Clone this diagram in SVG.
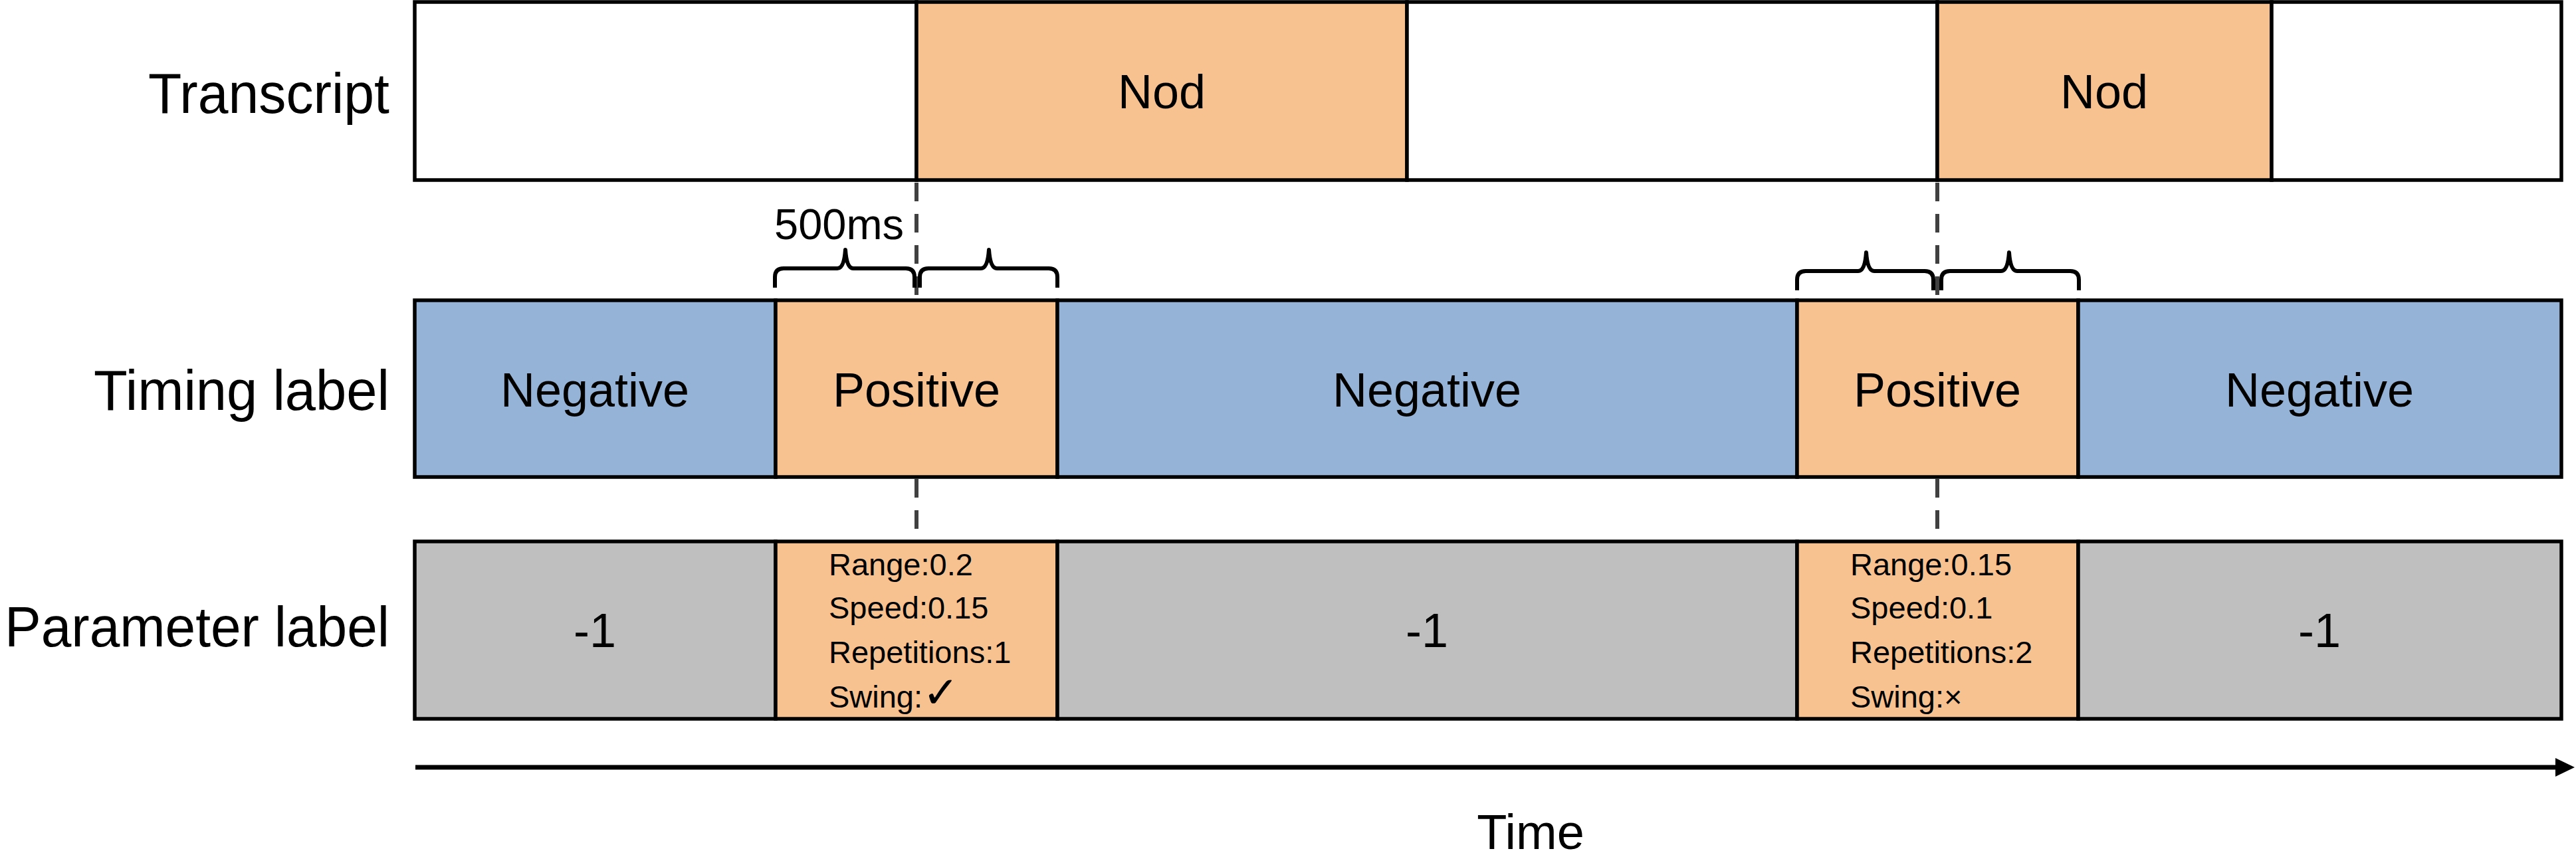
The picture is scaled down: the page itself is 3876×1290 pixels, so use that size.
<svg xmlns="http://www.w3.org/2000/svg" width="3876" height="1290" viewBox="0 0 3876 1290">
<style>
text{font-family:"Liberation Sans","DejaVu Sans",sans-serif;fill:#000}
.cell{stroke:#000;stroke-width:5.5}
.w{fill:#fff}.o{fill:#F8C190}.b{fill:#95B3D7}.g{fill:#BFBFBF}
.lbl{font-size:86px;text-anchor:end}
.c{font-size:72px;text-anchor:middle}
.p{font-size:47px}
.dash{stroke:#404040;stroke-width:6;stroke-dasharray:28 19;fill:none}
.brace{stroke:#000;stroke-width:6;fill:none;stroke-linejoin:round}
</style>
<rect width="3876" height="1290" fill="#fff"/>

<g id="row-labels">
<text class="lbl" x="586" y="170" textLength="363" lengthAdjust="spacingAndGlyphs">Transcript</text>
<text class="lbl" x="586" y="617" textLength="445" lengthAdjust="spacingAndGlyphs">Timing label</text>
<text class="lbl" x="586" y="973" textLength="579" lengthAdjust="spacingAndGlyphs">Parameter label</text>
</g>

<g id="transcript-1"><rect class="cell w" x="624" y="3" width="755" height="268"/></g>
<g id="transcript-nod-1"><rect class="cell o" x="1379" y="3" width="738" height="268"/><text class="c" x="1748" y="163">Nod</text></g>
<g id="transcript-2"><rect class="cell w" x="2117" y="3" width="798" height="268"/></g>
<g id="transcript-nod-2"><rect class="cell o" x="2915" y="3" width="503" height="268"/><text class="c" x="3166" y="163">Nod</text></g>
<g id="transcript-3"><rect class="cell w" x="3418" y="3" width="436" height="268"/></g>

<g id="timing-neg-1"><rect class="cell b" x="624" y="452" width="543" height="266"/><text class="c" x="895" y="612">Negative</text></g>
<g id="timing-pos-1"><rect class="cell o" x="1167" y="452" width="424" height="266"/><text class="c" x="1379" y="612">Positive</text></g>
<g id="timing-neg-2"><rect class="cell b" x="1591" y="452" width="1113" height="266"/><text class="c" x="2147" y="612">Negative</text></g>
<g id="timing-pos-2"><rect class="cell o" x="2704" y="452" width="423" height="266"/><text class="c" x="2915" y="612">Positive</text></g>
<g id="timing-neg-3"><rect class="cell b" x="3127" y="452" width="727" height="266"/><text class="c" x="3490" y="612">Negative</text></g>

<g id="param-1"><rect class="cell g" x="624" y="815" width="543" height="267"/><text class="c" x="895" y="974">-1</text></g>
<g id="param-pos-1"><rect class="cell o" x="1167" y="815" width="424" height="267"/>
<text class="p" x="1247" y="866">Range:0.2</text>
<text class="p" x="1247" y="931">Speed:0.15</text>
<text class="p" x="1247" y="998">Repetitions:1</text>
<text class="p" x="1247" y="1065">Swing:<tspan style="font-size:66px">✓</tspan></text></g>
<g id="param-2"><rect class="cell g" x="1591" y="815" width="1113" height="267"/><text class="c" x="2147" y="974">-1</text></g>
<g id="param-pos-2"><rect class="cell o" x="2704" y="815" width="423" height="267"/>
<text class="p" x="2784" y="866">Range:0.15</text>
<text class="p" x="2784" y="931">Speed:0.1</text>
<text class="p" x="2784" y="998">Repetitions:2</text>
<text class="p" x="2784" y="1065">Swing:×</text></g>
<g id="param-3"><rect class="cell g" x="3127" y="815" width="727" height="267"/><text class="c" x="3490" y="974">-1</text></g>

<g id="annotation-500ms"><text style="font-size:65px" x="1165" y="360">500ms</text></g>
<g id="axis-label"><text style="font-size:74px;text-anchor:middle" x="2303" y="1278">Time</text></g>

<g id="connectors">
<line class="dash" x1="1379" y1="275" x2="1379" y2="447"/>
<line class="dash" x1="1379" y1="721" x2="1379" y2="796"/>
<line class="dash" x1="2915" y1="275" x2="2915" y2="447"/>
<line class="dash" x1="2915" y1="721" x2="2915" y2="796"/>
<path class="brace" d="M1166 433 L1166 417 Q1166 404 1179 404 L1260 404 Q1270 404 1272 376 Q1274 404 1284 404 L1363 404 Q1376 404 1376 417 L1376 433"/>
<path class="brace" d="M1384 433 L1384 417 Q1384 404 1397 404 L1476 404 Q1486 404 1488 376 Q1490 404 1500 404 L1578 404 Q1591 404 1591 417 L1591 433"/>
<path class="brace" d="M2704 437 L2704 421 Q2704 408 2717 408 L2796 408 Q2806 408 2808 380 Q2810 408 2820 408 L2896 408 Q2909 408 2909 421 L2909 437"/>
<path class="brace" d="M2921 437 L2921 421 Q2921 408 2934 408 L3011 408 Q3021 408 3023 380 Q3025 408 3035 408 L3115 408 Q3128 408 3128 421 L3128 437"/>
<line x1="625" y1="1155" x2="3848" y2="1155" stroke="#000" stroke-width="7"/>
<path d="M3845 1141 L3874 1155 L3845 1169 Z" fill="#000"/>
</g>
</svg>
